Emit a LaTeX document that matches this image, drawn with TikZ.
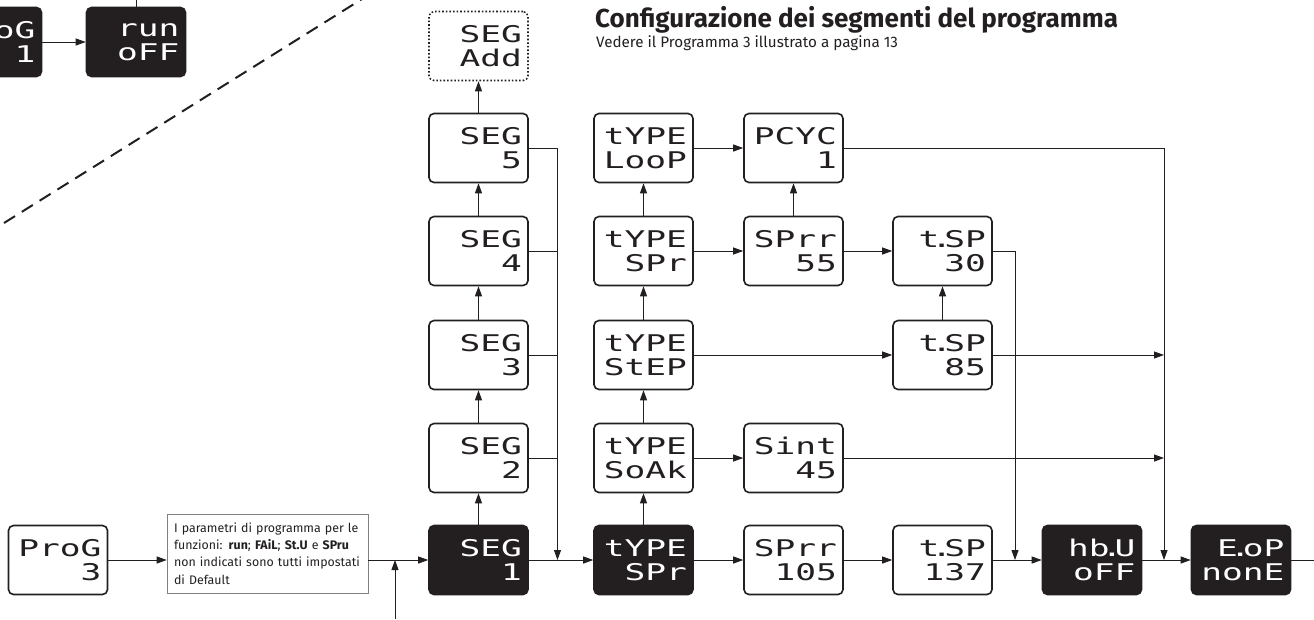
\documentclass[tikz,border=0pt]{standalone}
\usepackage{fontspec}
\setmainfont{Fira Sans}
\newfontfamily\segfont[FakeStretch=1.5]{DejaVu Sans Mono}
\usetikzlibrary{arrows.meta}
\definecolor{nero}{RGB}{35,31,32}
\newcommand{\epais}[0]{1.6pt}
\newcommand{\pto}[0]{\kern-8pt.\kern-7.6pt}
\newcommand{\ecran}[5][disp]{\node[#1] (#2) at (#3) {#4\\#5}}
\tikzset{
	disp/.style={draw=nero,line width=\epais,rounded corners=5pt,minimum width=99pt,minimum height=69pt,
		text width=87pt,inner xsep=6pt,align=right,text=nero,
		font=\segfont\fontsize{23}{24}\selectfont},
	dispnero/.style={disp,fill=nero,text=white},
	dispadd/.style={disp,dotted},
	fl/.style={draw=nero,line width=0.9pt,-{Triangle[length=10pt,width=7pt]}},
	li/.style={draw=nero,line width=0.9pt}
}

\begin{document}
\begin{tikzpicture}[x=1pt,y=-1pt]
	\clip (0,0) rectangle (1314,619);
	\ecran[dispnero]{pg1}{-8,42}{ProG}{1};
	\ecran[dispnero]{run}{136,42}{run}{oFF};
	\ecran{prog}{58,560}{ProG}{3};
	\node[draw=gray,line width=0.6pt,text width=187pt,inner xsep=7pt,minimum height=79pt,align=left,
		font=\fontsize{12.4}{17.3}\selectfont,text=nero] (nota) at (267.5,553.5)
		{I parametri di programma per le\\funzioni: \textbf{run}; \textbf{FAiL}; \textbf{St.U} e \textbf{SPru}\\non indicati sono tutti impostati\\di Default};
	\ecran[dispnero]{seg1}{478.5,560}{SEG}{1};
	\ecran{seg2}{478.5,458}{SEG}{2};
	\ecran{seg3}{478.5,355}{SEG}{3};
	\ecran{seg4}{478.5,251}{SEG}{4};
	\ecran{seg5}{478.5,148}{SEG}{5};
	\ecran[dispadd]{segadd}{478.5,46}{SEG}{Add};
	\ecran[dispnero]{tspr}{643.5,560}{tYPE}{SPr};
	\ecran{tsoak}{643.5,458}{tYPE}{SoAk};
	\ecran{tstep}{643.5,355}{tYPE}{StEP};
	\ecran{tspr2}{643.5,251}{tYPE}{SPr};
	\ecran{tloop}{643.5,148}{tYPE}{LooP};
	\ecran{sprr1}{793.5,560}{SPrr}{105};
	\ecran{sint}{793.5,458}{Sint}{45};
	\ecran{sprr2}{793.5,251}{SPrr}{55};
	\ecran{pcyc}{793.5,148}{PCYC}{1};
	\ecran{tsp1}{942.5,560}{t\pto SP}{137};
	\ecran{tsp2}{942.5,355}{t\pto SP}{85};
	\ecran{tsp3}{942.5,251}{t\pto SP}{30};
	\ecran[dispnero]{hbu}{1092,560}{hb\pto U}{oFF};
	\ecran[dispnero]{eop}{1241,560}{E\pto oP}{nonE};
	\node[anchor=base west,inner sep=0pt,text=nero,font=\bfseries\fontsize{26}{30}\selectfont] (titolo) at (595,27)
		{Configurazione dei segmenti del programma};
	\node[anchor=base west,inner sep=0pt,text=nero,font=\fontsize{15.2}{17}\selectfont] (sotto) at (596,47)
		{Vedere il Programma 3 illustrato a pagina 13};
	\coordinate (d1) at (4,223);
	\coordinate (d2) at (362,-1);
	\draw[nero,line width=2pt,dash pattern=on 13pt off 8pt] (d1) -- (d2);
	\coordinate (su) at (136,0);
	\draw[li] (run) -- (run |- su);
	\draw[fl] (pg1) -- (run);
	\draw[fl] (prog) -- (prog -| nota.west);
	\draw[fl] (nota.east |- seg1) -- (seg1);
	\coordinate (ingresso) at (395,619);
	\draw[fl] (ingresso) -- (ingresso |- seg1);
	\foreach \a/\b in {seg1/seg2,seg2/seg3,seg3/seg4,seg4/seg5,seg5/segadd}
		\draw[fl] (\a) -- (\b);
	\coordinate (busA) at (557.5,148);
	\foreach \s in {seg2,seg3,seg4}
		\draw[li] (\s) -- (\s -| busA);
	\draw[fl] (seg5) -- (busA) -- (busA |- seg1);
	\foreach \a/\b in {seg1/tspr,tspr/sprr1,sprr1/tsp1,tsp1/hbu,hbu/eop}
		\draw[fl] (\a) -- (\b);
	\foreach \a/\b in {tspr/tsoak,tsoak/tstep,tstep/tspr2,tspr2/tloop}
		\draw[fl] (\a) -- (\b);
	\coordinate (uscita) at (1314,560);
	\draw[li] (eop) -- (uscita);
	\draw[fl] (tsoak) -- (sint);
	\draw[fl] (tstep) -- (tsp2);
	\draw[fl] (tspr2) -- (sprr2);
	\draw[fl] (sprr2) -- (tsp3);
	\draw[fl] (tsp2) -- (tsp3);
	\draw[fl] (sprr2) -- (pcyc);
	\draw[fl] (tloop) -- (pcyc);
	\coordinate (busC) at (1015,251);
	\draw[fl] (tsp3) -- (busC) -- (busC |- hbu);
	\coordinate (busD) at (1164,148);
	\draw[fl] (pcyc) -- (busD) -- (busD |- eop);
	\draw[fl] (tsp2) -- (tsp2 -| busD);
	\draw[fl] (sint) -- (sint -| busD);
\end{tikzpicture}
\end{document}
